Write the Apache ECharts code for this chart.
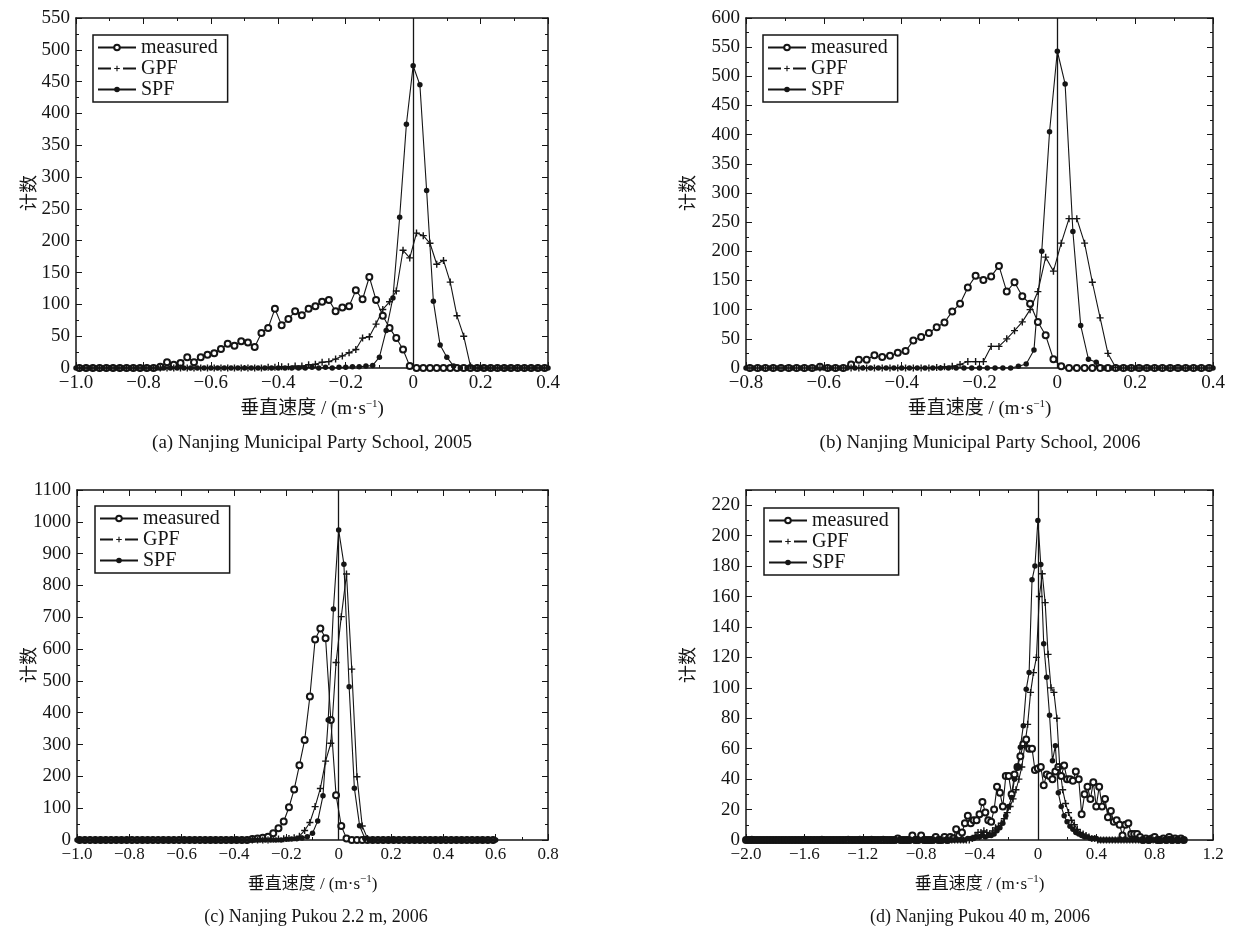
<!DOCTYPE html>
<html><head><meta charset="utf-8">
<script src="https://cdn.jsdelivr.net/npm/echarts@6/dist/echarts.min.js"></script>
<style>html,body{margin:0;padding:0;background:#fff}#c{width:1242px;height:938px}</style>
</head><body><div id="c"></div>
<script>
const FONT = "'Liberation Serif','Noto Sans CJK SC',serif";
const INK = '#151515';
const STEP = 0.02;

// ---------- (a) Nanjing Municipal Party School, 2005 ----------
const aMeasuredStart = -0.99, aGpfStart = -0.99, aSpfStart = -1.0;
const aMeasured = [0,0,0,0,0,0,0,0,0,0,0,0,2,
 9,5,8,17,9,17,21,23,30,38,35,42,40,33,55,63,93,67,77,89,83,93,97,104,107,89,95,97,122,108,143,107,82,63,47,29,
 3,
 0,0,0,0,0,0,0,0,0,0,0,0,0,0,0,0,0,0,0,0];
const aGpf = [0,0,0,0,0,0,0,0,0,0,0,0,0,0,0,0,0,0,0,0,0,0,0,0,0,0,0,0,
 1,1,2,2,3,3,5,6,9,10,14,19,24,29,47,49,69,92,104,121,185,173,212,208,196,163,169,135,82,50,3,
 0,0,0,0,0,0,0,0,0,0,0];
const aSpf = [0,0,0,0,0,0,0,0,0,0,0,0,0,0,0,0,0,0,0,0,0,0,0,0,0,0,0,0,0,0,0,0,0,0,0,
 1,0,1,0,1,1,2,2,3,4,17,59,110,237,383,475,445,279,105,36,17,3,
 0,0,0,0,0,0,0,0,0,0,0,0,0,0];

// ---------- (b) Nanjing Municipal Party School, 2006 ----------
const bMeasuredStart = -0.79, bGpfStart = -0.79, bSpfStart = -0.8;
const bMeasured = [0,0,0,0,0,0,0,0,0,2,0,0,0,
 6,14,14,22,19,21,26,29,47,53,60,70,78,97,110,138,158,151,157,175,131,147,123,110,79,56,15,
 3,
 0,0,0,0,0,0,0,0,0,0,0,0,0,0,0,0,0,0,0];
const bGpf = [0,0,0,0,0,0,0,0,0,0,0,0,0,0,0,0,0,0,0,0,0,0,0,0,
 1,2,3,6,11,11,11,37,37,50,64,79,100,131,190,166,214,256,256,214,147,86,25,1,
 0,0,0,0,0,0,0,0,0,0,0,0];
const bSpf = [0,0,0,0,0,0,0,0,0,0,0,0,0,0,0,0,0,0,0,0,0,0,0,0,0,0,0,0,0,0,0,0,0,0,0,
 3,7,31,200,405,543,487,234,73,15,10,
 0,0,0,0,0,0,0,0,0,0,0,0,0,0,0];

// ---------- (c) Nanjing Pukou 2.2 m, 2006 ----------
const cMeasuredStart = -0.99, cGpfStart = -0.99, cSpfStart = -1.0;
const cMeasured = [0,0,0,0,0,0,0,0,0,0,0,0,0,0,0,0,0,0,0,0,0,0,0,0,0,0,0,0,0,0,0,0,0,
 3,5,7,10,21,37,58,103,159,235,314,451,630,665,634,377,141,44,5,
 0,0,0,0,0,0,0,0,0,0,0,0,0,0,0,0,0,0,0,0,0,0,0,0,0,0,0,0];
const cGpf = [0,0,0,0,0,0,0,0,0,0,0,0,0,0,0,0,0,0,0,0,0,0,0,0,0,0,0,0,0,0,0,0,0,0,0,0,0,
 2,3,4,5,7,12,30,55,105,162,248,304,558,702,836,537,199,44,5,
 0,0,0,0,0,0,0,0,0,0,0,0,0,0,0,0,0,0,0,0,0,0,0,0];
const cSpf = [0,0,0,0,0,0,0,0,0,0,0,0,0,0,0,0,0,0,0,0,0,0,0,0,0,0,0,0,0,0,0,0,0,0,0,0,0,0,0,0,
 2,3,4,6,10,21,60,139,377,726,974,867,482,163,45,5,
 0,0,0,0,0,0,0,0,0,0,0,0,0,0,0,0,0,0,0,0,0,0,0,0,0];

// ---------- (d) Nanjing Pukou 40 m, 2006 ----------
const dMeasuredStart = -2.0, dGpfStart = -1.99, dSpfStart = -2.0;
const dMeasured = [
 0,0,0,0,0,0,0,0,0,0, 0,0,0,0,0,0,0,0,0,0, 0,0,0,0,0,0,0,0,0,0,
 0,0,0,0,0,0,0,0,0,0, 0,0,0,0,0,0,0,0,0,0, 0,0,1,0,0,0,0,3,0,0,
 3,0,0,0,0,2,0,0,2,0,
 2,1,7,3,5,11,16,11,13,13,17,25,18,13,12,20,35,31,22,42,42,30,43,48,55,63,66,60,60,46,
 47,48,36,43,42,40,45,48,42,49,40,40,39,45,40,17,30,35,27,38,22,35,22,27,15,19,12,13,10,3,
 10,11,4,4,4,2,0,1,0,1,2,0,0,1,0,2,0,1,0,1,0];
const dGpf = [
 0,0,0,0,0,0,0,0,0,0, 0,0,0,0,0,0,0,0,0,0, 0,0,0,0,0,0,0,0,0,0,
 0,0,0,0,0,0,0,0,0,0, 0,0,0,0,0,0,0,0,0,0, 0,0,0,0,0,0,0,0,0,0,
 0,0,0,0,0,0,0,0,0,0, 0,0,0,0,0,0,0,
 1,3,5,5,6,5,4,6,8,9,11,14,18,22,27,33,40,48,62,76,97,110,120,160,175,156,122,100,97,80,
 48,33,24,18,13,10,7,5,4,3,2,1,1,
 0,0,0,0,0,0,0,0,0,0, 0,0,0,0,0,0,0,0,0,0, 0,0,0,0,0,0,0,0,0,0];
const dSpf = [
 0,0,1,0,0,0,0,0,0,0, 0,0,0,0,0,0,0,0,0,0, 1,0,0,0,0,0,1,0,0,0,
 0,0,0,0,0,1,0,0,0,1, 0,0,0,1,0,0,0,1,0,0, 0,0,0,0,0,0,0,0,0,0,
 0,0,0,0,0,0,0,0,0,0, 0,0,0,0,0,0,
 1,1,1,2,2,3,2,3,3,4,6,8,11,16,22,28,40,48,61,75,99,110,171,180,210,181,129,107,82,52,
 62,31,22,16,12,9,7,5,4,3,2,2,1,1,1,
 0,0,0,0,0,0,0,0,0,0, 0,0,0,0,0,0,0,0,0,0, 0,0,0,0,1,0,0,0,0,0];

// axis ranges [min, max, interval]
const xRanges = [[-1.0,0.4,0.2],[-0.8,0.4,0.2],[-1.0,0.8,0.2],[-2.0,1.2,0.4]];
const yRanges = [[0,550,50],[0,600,50],[0,1100,100],[0,230,20]];
const captions = ['(a) Nanjing Municipal Party School, 2005','(b) Nanjing Municipal Party School, 2006',
  '(c) Nanjing Pukou 2.2 m, 2006','(d) Nanjing Pukou 40 m, 2006'];
const seriesNames = ['measured','GPF','SPF'];
const xTitle = '垂直速度 / (m·s{sup|−1})';
const yTitle = '计数';

const data = [
  [[aMeasuredStart,aMeasured],[aGpfStart,aGpf],[aSpfStart,aSpf]],
  [[bMeasuredStart,bMeasured],[bGpfStart,bGpf],[bSpfStart,bSpf]],
  [[cMeasuredStart,cMeasured],[cGpfStart,cGpf],[cSpfStart,cSpf]],
  [[dMeasuredStart,dMeasured],[dGpfStart,dGpf],[dSpfStart,dSpf]]
];

// layout
const grids = [
  {left:76, top:18, width:472, height:350},
  {left:746, top:18, width:467, height:350},
  {left:77, top:490, width:471, height:350},
  {left:746, top:490, width:467, height:350}
];
const legendPos = [{left:93,top:35},{left:763,top:35},{left:95,top:506},{left:764,top:508}];
const yNameGap = [37,48,38,48];
const capPos = [[312,443],[980,443],[316,917],[980,917]];

function pairs(start, vals){ return vals.map((v,i)=>[+(start+i*STEP).toFixed(3), v]); }
function fmtX(v){ if (Math.abs(v)<1e-9) return '0'; const s=Math.abs(v).toFixed(1); return v<0?'\u2212'+s:s; }
function fmtY(v){ return String(Math.round(v)); }

const line = {color:INK, width:1.5};
const xAxis=[], yAxis=[], series=[], legend=[], graphic=[];
const plus = 'path://M-0.8,-4H0.8V-0.8H4V0.8H0.8V4H-0.8V0.8H-4V-0.8H-0.8Z';

grids.forEach((g,i)=>{
  const [xmin,xmax,xint]=xRanges[i], [ymin,ymax,yint]=yRanges[i];
  const bottomRow = i>=2;
  const common = {gridIndex:i, type:'value', splitLine:{show:false},
    axisLine:{show:true,onZero:false,lineStyle:line},
    axisTick:{show:true,inside:true,length:6,lineStyle:{color:INK,width:1}},
    minorTick:{show:true,splitNumber:2,length:3,lineStyle:{color:INK,width:1}}};
  xAxis.push(Object.assign({}, common, {min:xmin,max:xmax,interval:xint,position:'bottom',
    axisLabel:{fontFamily:FONT,fontSize:bottomRow?17:19,color:INK,margin:6,formatter:fmtX},
    name:xTitle, nameLocation:'middle', nameGap:bottomRow?34:31, nameMoveOverlap:false,
    nameTextStyle:{fontFamily:FONT,fontSize:bottomRow?17:19,color:INK,
      rich:{sup:{fontFamily:FONT,fontSize:11,color:INK,padding:[0,0,10,0]}}}}));
  xAxis.push(Object.assign({}, common, {min:xmin,max:xmax,interval:xint,position:'top',axisLabel:{show:false}}));
  yAxis.push(Object.assign({}, common, {min:ymin,max:ymax,interval:yint,position:'left',
    axisLabel:{fontFamily:FONT,fontSize:19,color:INK,margin:6,formatter:fmtY,showMaxLabel:i===3?false:true},
    name:yTitle,nameLocation:'middle',nameRotate:90,nameGap:yNameGap[i],nameMoveOverlap:false,
    nameTextStyle:{fontFamily:FONT,fontSize:18,color:INK}}));
  yAxis.push(Object.assign({}, common, {min:ymin,max:ymax,interval:yint,position:'right',axisLabel:{show:false}}));

  const [m,gp,sp] = data[i];
  series.push({type:'line',name:'measured',xAxisIndex:2*i,yAxisIndex:2*i,data:pairs(m[0],m[1]),
    symbol:'emptyCircle',symbolSize:6,showAllSymbol:true,animation:false,
    lineStyle:{color:INK,width:1.1},itemStyle:{color:INK,borderWidth:0.8}});
  series.push({type:'line',name:'GPF',xAxisIndex:2*i,yAxisIndex:2*i,data:pairs(gp[0],gp[1]),
    symbol:plus,symbolSize:7,showAllSymbol:true,animation:false,
    lineStyle:{color:INK,width:1.1},itemStyle:{color:INK}});
  series.push({type:'line',name:'SPF',xAxisIndex:2*i,yAxisIndex:2*i,data:pairs(sp[0],sp[1]),
    symbol:'circle',symbolSize:5.5,showAllSymbol:true,animation:false,
    lineStyle:{color:INK,width:1.1},itemStyle:{color:INK},
    markLine:{silent:true,symbol:'none',label:{show:false},animation:false,
      lineStyle:{color:INK,width:1.3,type:'solid'},data:[{xAxis:0}]}});

  legend.push({left:legendPos[i].left,top:legendPos[i].top,orient:'vertical',selectedMode:false,
    itemWidth:38,itemHeight:7,itemGap:0,itemTextGap:3,padding:[2,10,2,4],
    borderColor:INK,borderWidth:1.5,
    textStyle:{fontFamily:FONT,fontSize:20,color:INK,lineHeight:21},
    data:[{name:'measured'},{name:'GPF',lineStyle:{type:[13,12]}},{name:'SPF'}]});

  graphic.push({type:'text',x:capPos[i][0],y:capPos[i][1],
    style:{text:captions[i],fontFamily:FONT,fontSize:bottomRow?18:19,fill:INK,align:'center',verticalAlign:'middle'}});
});

const chart = echarts.init(document.getElementById('c'), null, {renderer:'canvas'});
chart.setOption({backgroundColor:'#fff',animation:false,grid:grids,xAxis,yAxis,series,legend,graphic});
</script></body></html>
